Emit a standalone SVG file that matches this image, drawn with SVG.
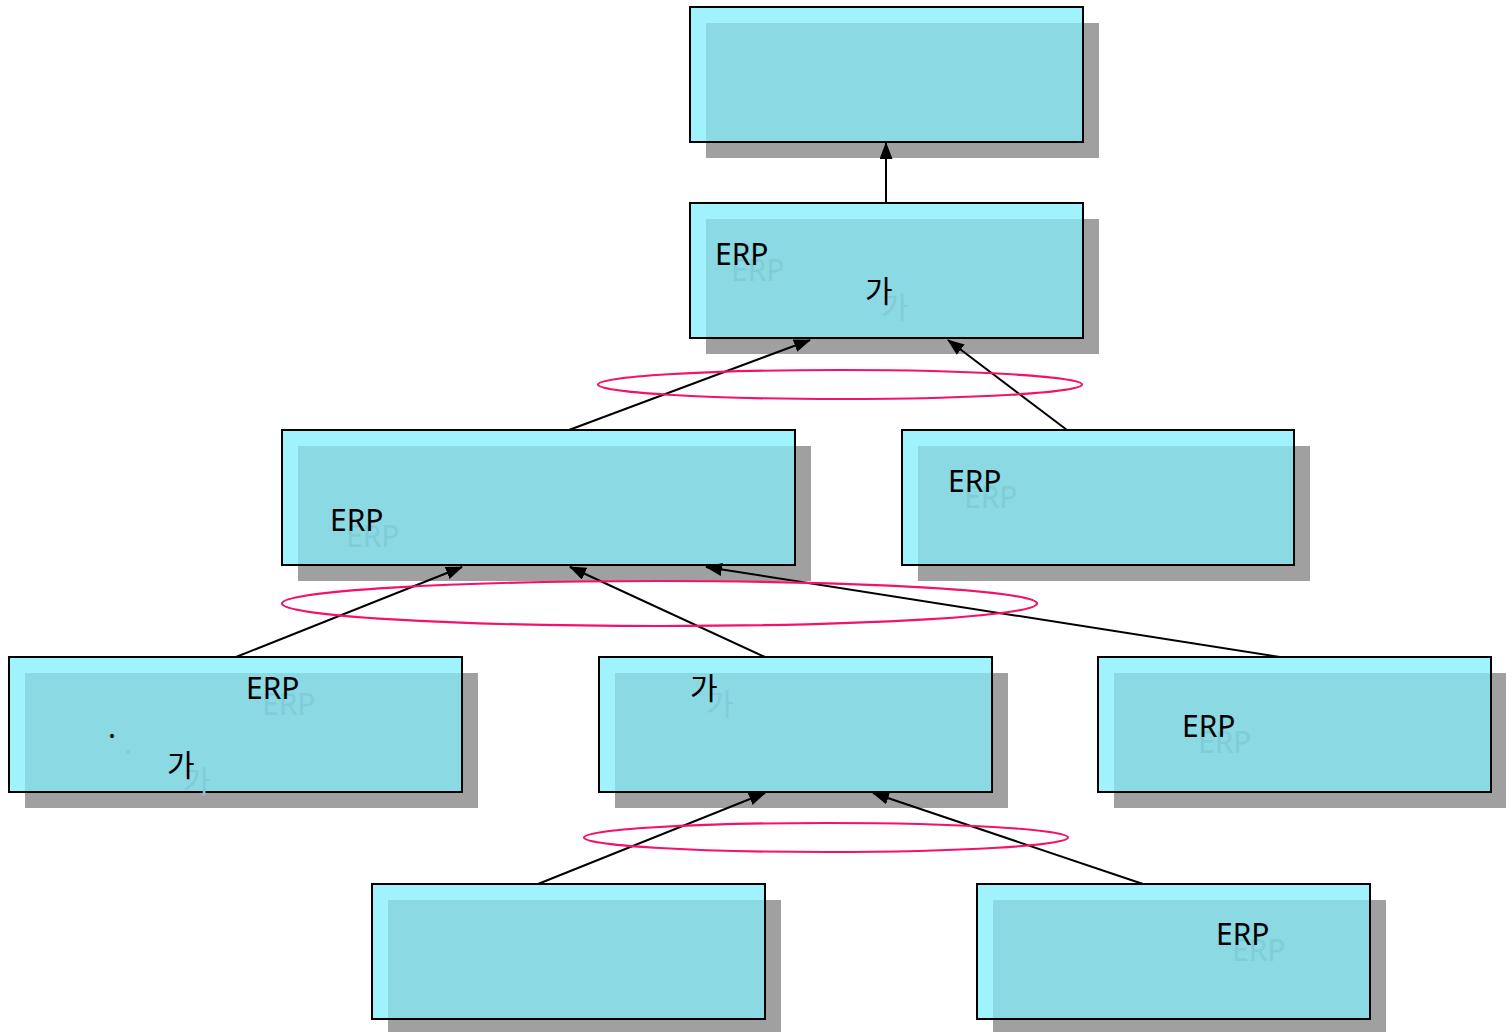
<svg xmlns="http://www.w3.org/2000/svg" width="1506" height="1032" viewBox="0 0 1506 1032">
<defs>
<style>
.sh{fill:#a0a0a0}
.bx{fill:#a0f2fc}
.ov{fill:#8bd9e3}
.bd{fill:none;stroke:#000;stroke-width:2}
.t{font-family:"Noto Sans","Noto Sans CJK KR",sans-serif;font-size:30px;fill:#000}
.g{font-family:"Noto Sans","Noto Sans CJK KR",sans-serif;font-size:30px;fill:#80cdd8}
.k{font-family:"Noto Sans CJK KR","Noto Sans",sans-serif;font-size:30px;fill:#000}
.kg{font-family:"Noto Sans CJK KR","Noto Sans",sans-serif;font-size:30px;fill:#80cdd8}
.c{stroke:#000;stroke-width:2;fill:none;marker-end:url(#ah)}
.el{fill:none;stroke:#f5106a;stroke-width:2.2}
</style>
<marker id="ah" markerWidth="17" markerHeight="13" refX="16" refY="6.5" orient="auto" markerUnits="userSpaceOnUse">
<path d="M0,0 L17,6.5 L0,13 z" fill="#000"/>
</marker>
</defs>
<rect width="1506" height="1032" fill="#fff"/>
<g id="nodeA">
<rect class="sh" x="706" y="23" width="393" height="135"/>
<rect class="bx" x="690" y="7" width="393" height="135"/>
<rect class="ov" x="706" y="23" width="377" height="119"/>
<rect class="bd" x="690" y="7" width="393" height="135"/>
</g>
<g id="nodeB">
<rect class="sh" x="706" y="219" width="393" height="135"/>
<rect class="bx" x="690" y="203" width="393" height="135"/>
<rect class="ov" x="706" y="219" width="377" height="119"/>
<rect class="bd" x="690" y="203" width="393" height="135"/>
<text class="g" x="731" y="281">ERP</text>
<text class="t" x="715" y="265">ERP</text>
<text class="kg" x="881" y="318">가</text>
<text class="k" x="865" y="302">가</text>
</g>
<g id="nodeC">
<rect class="sh" x="298" y="446" width="513" height="135"/>
<rect class="bx" x="282" y="430" width="513" height="135"/>
<rect class="ov" x="298" y="446" width="497" height="119"/>
<rect class="bd" x="282" y="430" width="513" height="135"/>
<text class="g" x="346" y="547">ERP</text>
<text class="t" x="330" y="531">ERP</text>
</g>
<g id="nodeD">
<rect class="sh" x="918" y="446" width="392" height="135"/>
<rect class="bx" x="902" y="430" width="392" height="135"/>
<rect class="ov" x="918" y="446" width="376" height="119"/>
<rect class="bd" x="902" y="430" width="392" height="135"/>
<text class="g" x="964" y="508">ERP</text>
<text class="t" x="948" y="492">ERP</text>
</g>
<g id="nodeE">
<rect class="sh" x="25" y="673" width="453" height="135"/>
<rect class="bx" x="9" y="657" width="453" height="135"/>
<rect class="ov" x="25" y="673" width="437" height="119"/>
<rect class="bd" x="9" y="657" width="453" height="135"/>
<text class="g" x="262" y="715">ERP</text>
<text class="t" x="246" y="699">ERP</text>
<text class="g" x="124" y="754">.</text>
<text class="t" x="108" y="738">.</text>
<text class="kg" x="183" y="792">가</text>
<text class="k" x="167" y="776">가</text>
</g>
<g id="nodeF">
<rect class="sh" x="615" y="673" width="393" height="135"/>
<rect class="bx" x="599" y="657" width="393" height="135"/>
<rect class="ov" x="615" y="673" width="377" height="119"/>
<rect class="bd" x="599" y="657" width="393" height="135"/>
<text class="kg" x="706" y="715">가</text>
<text class="k" x="690" y="699">가</text>
</g>
<g id="nodeG">
<rect class="sh" x="1114" y="673" width="393" height="135"/>
<rect class="bx" x="1098" y="657" width="393" height="135"/>
<rect class="ov" x="1114" y="673" width="377" height="119"/>
<rect class="bd" x="1098" y="657" width="393" height="135"/>
<text class="g" x="1198" y="753">ERP</text>
<text class="t" x="1182" y="737">ERP</text>
</g>
<g id="nodeH">
<rect class="sh" x="388" y="900" width="393" height="135"/>
<rect class="bx" x="372" y="884" width="393" height="135"/>
<rect class="ov" x="388" y="900" width="377" height="119"/>
<rect class="bd" x="372" y="884" width="393" height="135"/>
</g>
<g id="nodeI">
<rect class="sh" x="993" y="900" width="393" height="135"/>
<rect class="bx" x="977" y="884" width="393" height="135"/>
<rect class="ov" x="993" y="900" width="377" height="119"/>
<rect class="bd" x="977" y="884" width="393" height="135"/>
<text class="g" x="1232" y="961">ERP</text>
<text class="t" x="1216" y="945">ERP</text>
</g>
<g id="connectors">
<line class="c" x1="886" y1="203" x2="886" y2="143"/>
<line class="c" x1="569" y1="430" x2="810" y2="340"/>
<line class="c" x1="1067" y1="430" x2="948" y2="340"/>
<line class="c" x1="236" y1="657" x2="462" y2="567"/>
<line class="c" x1="765" y1="657" x2="570" y2="567"/>
<line class="c" x1="1280" y1="657" x2="706" y2="567"/>
<line class="c" x1="538" y1="884" x2="765" y2="793"/>
<line class="c" x1="1143" y1="884" x2="873" y2="793"/>
<ellipse class="el" cx="840" cy="384.5" rx="242" ry="14.5"/>
<ellipse class="el" cx="659.5" cy="603.5" rx="377.5" ry="22.5"/>
<ellipse class="el" cx="826" cy="837.5" rx="242" ry="14.5"/>
</g>
</svg>
